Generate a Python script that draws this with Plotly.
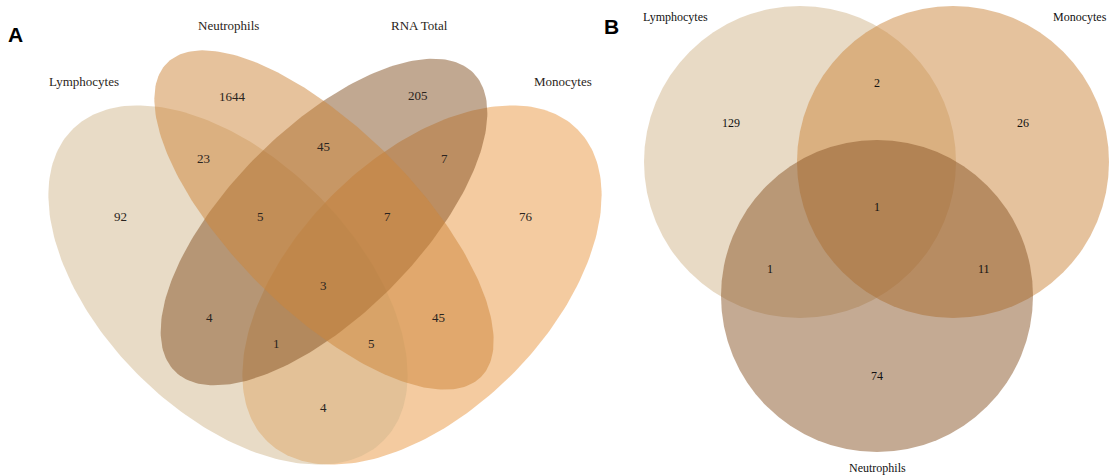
import numpy as np
import plotly.graph_objects as go

# ---- Panel A: four-set overlap counts ----
sets_a = ["Lymphocytes", "Neutrophils", "RNA Total", "Monocytes"]
regions_a = ["L", "N", "R", "M", "LN", "NR", "RM", "LM",
             "LNR", "NRM", "LNRM", "LR", "NM", "LRM", "LNM"]
counts_a = [92, 1644, 205, 76, 23, 45, 7, 4, 5, 7, 3, 4, 45, 1, 5]

# ---- Panel B: three-set overlap counts ----
sets_b = ["Lymphocytes", "Monocytes", "Neutrophils"]
regions_b = ["L", "M", "N", "LM", "LN", "MN", "LMN"]
counts_b = [129, 26, 74, 2, 1, 11, 1]

# ---- layout (pixel space, y grows downward) ----
W, H = 1109, 476

# ellipse geometry: centre x, centre y, semi-major, semi-minor, tilt (deg);
# listed in drawing order (later ones sit on top)
ellipses_a = {
    "Monocytes":   (422, 285, 220, 127, -45, "rgba(233,151,65,0.5)"),
    "Lymphocytes": (228, 285, 220, 127, 45, "rgba(209,183,142,0.5)"),
    "RNA Total":   (324, 222, 211, 94, -45, "rgba(132,81,36,0.5)"),
    "Neutrophils": (324, 220, 222, 91, 45, "rgba(205,133,57,0.5)"),
}
set_label_pos_a = {"Lymphocytes": (84, 81), "Neutrophils": (228, 25),
                   "RNA Total": (419, 25), "Monocytes": (563, 81)}
region_pos_a = {
    "L": (120, 216), "N": (232, 96), "R": (418, 95), "M": (526, 216),
    "LN": (203, 158), "NR": (323, 146), "RM": (444, 158), "LM": (323, 407),
    "LNR": (260, 216), "NRM": (387, 216), "LNRM": (323, 285),
    "LR": (209, 317), "NM": (438, 317), "LRM": (276, 343), "LNM": (371, 343),
}

circles_b = {
    "Lymphocytes": (800, 162, 156, "rgba(209,181,139,0.5)"),
    "Monocytes":   (953, 162, 156, "rgba(203,133,59,0.5)"),
    "Neutrophils": (877, 296, 156, "rgba(137,85,39,0.5)"),
}
set_label_pos_b = {"Lymphocytes": (675, 17), "Monocytes": (1080, 17),
                   "Neutrophils": (877, 468)}
region_pos_b = {
    "L": (731, 123), "M": (1023, 123), "N": (877, 376), "LM": (877, 83),
    "LN": (770, 269), "MN": (984, 269), "LMN": (877, 207),
}

SERIF = "Liberation Serif"
TXT = "#2a2420"


def ellipse_xy(cx, cy, a, b, deg, n=240):
    t = np.linspace(0, 2 * np.pi, n)
    th = np.deg2rad(deg)
    x = cx + a * np.cos(t) * np.cos(th) - b * np.sin(t) * np.sin(th)
    y = cy + a * np.cos(t) * np.sin(th) + b * np.sin(t) * np.cos(th)
    return x, y


fig = go.Figure()

for name, (cx, cy, a, b, deg, col) in ellipses_a.items():
    x, y = ellipse_xy(cx, cy, a, b, deg)
    fig.add_trace(go.Scatter(x=x, y=y, mode="lines", fill="toself",
                             fillcolor=col, line=dict(width=0),
                             hoverinfo="skip", name=name, showlegend=False))

for name, (cx, cy, r, col) in circles_b.items():
    fig.add_shape(type="circle", xref="x", yref="y",
                  x0=cx - r, x1=cx + r, y0=cy - r, y1=cy + r,
                  fillcolor=col, line=dict(width=0), layer="above")

annotations = []
for name in sets_a:
    x, y = set_label_pos_a[name]
    annotations.append(dict(x=x, y=y, text=name, showarrow=False,
                            font=dict(family=SERIF, size=13, color=TXT)))
for reg, val in zip(regions_a, counts_a):
    x, y = region_pos_a[reg]
    annotations.append(dict(x=x, y=y, text=str(val), showarrow=False,
                            font=dict(family=SERIF, size=13, color=TXT)))
for name in sets_b:
    x, y = set_label_pos_b[name]
    annotations.append(dict(x=x, y=y, text=name, showarrow=False,
                            font=dict(family=SERIF, size=12, color="#111")))
for reg, val in zip(regions_b, counts_b):
    x, y = region_pos_b[reg]
    annotations.append(dict(x=x, y=y, text=str(val), showarrow=False,
                            font=dict(family=SERIF, size=12, color="#111")))

# panel letters
annotations.append(dict(x=15, y=34, text="<b>A</b>", showarrow=False,
                        font=dict(family="Liberation Sans", size=21, color="#000")))
annotations.append(dict(x=611, y=26, text="<b>B</b>", showarrow=False,
                        font=dict(family="Liberation Sans", size=21, color="#000")))

fig.update_layout(
    width=W, height=H, margin=dict(l=0, r=0, t=0, b=0),
    paper_bgcolor="white", plot_bgcolor="white",
    xaxis=dict(range=[0, W], visible=False, fixedrange=True),
    yaxis=dict(range=[H, 0], visible=False, fixedrange=True),
    annotations=annotations, showlegend=False,
)

fig.write_html("out.html")
